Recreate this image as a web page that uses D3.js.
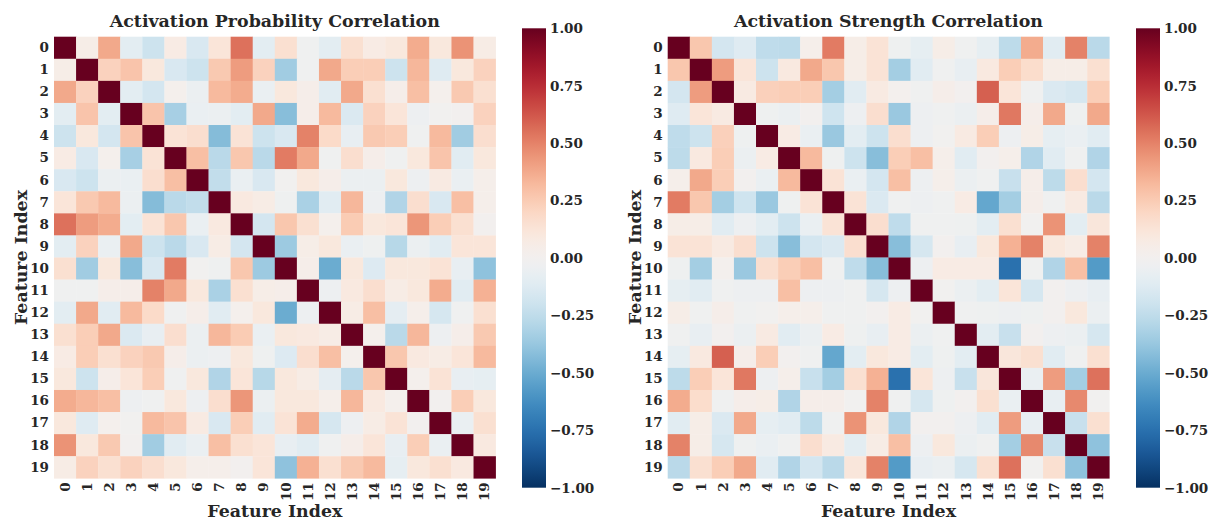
<!DOCTYPE html>
<html><head><meta charset="utf-8">
<script src="https://cdn.jsdelivr.net/npm/d3@7"></script>
<style>body{margin:0;background:#fff}svg{display:block}</style>
</head><body>
<svg id="chart" width="1210" height="522"></svg>
<script>
// ---- DATA ----
const featureLabels = ["0","1","2","3","4","5","6","7","8","9","10","11","12","13","14","15","16","17","18","19"];
const colorbarTicks = [-1, -0.75, -0.5, -0.25, 0, 0.25, 0.5, 0.75, 1];
const titles = ["Activation Probability Correlation", "Activation Strength Correlation"];
const axisLabel = "Feature Index";

const probCorr = [
 [1,.05,.38,-.10,-.20,.07,-.15,.12,.55,-.10,.15,-.02,-.10,.15,.07,.10,.37,.10,.45,.06],
 [.05,1,.22,.28,.10,-.15,-.20,.26,.42,.22,-.35,-.02,.38,.24,.24,-.20,.33,-.12,.10,.22],
 [.38,.22,1,-.10,-.17,.02,-.05,.32,.37,-.06,.10,.04,-.11,.38,.15,.04,.30,.02,.26,.15],
 [-.10,.28,-.10,1,.28,-.33,-.06,-.05,-.10,.38,-.42,.04,.32,-.14,.22,.12,-.04,-.01,.00,.22],
 [-.20,.10,-.17,.28,1,.13,.16,-.43,.13,-.20,-.15,.50,.18,-.07,.26,.24,-.02,.32,-.35,.16],
 [.07,-.15,.02,-.33,.13,1,.30,-.27,.27,-.27,.52,.38,-.02,.16,.04,-.02,.10,.28,-.11,.10],
 [-.15,-.20,-.05,-.06,.16,.30,1,-.24,-.06,-.15,-.01,.10,.04,-.05,-.05,.10,-.04,.08,-.06,.03],
 [.12,.26,.32,-.05,-.43,-.27,-.24,1,.09,.06,-.03,-.32,-.11,.33,-.04,-.30,.16,-.15,.30,.03],
 [.55,.42,.37,-.10,.13,.27,-.06,.09,1,-.17,.27,.15,.02,.25,.10,.12,.44,.24,.15,.00],
 [-.10,.22,-.06,.38,-.20,-.27,-.15,.06,-.17,1,-.36,.05,.10,-.06,-.03,-.28,-.05,-.11,.12,.12],
 [.15,-.35,.10,-.42,-.15,.52,-.01,-.03,.27,-.36,1,.04,-.50,.10,-.13,.10,.10,.13,-.07,-.40],
 [-.02,-.02,.04,.04,.50,.38,.10,-.32,.15,.05,.04,1,-.04,.09,.16,.06,.10,.37,-.11,.35],
 [-.10,.38,-.11,.32,.18,-.02,.04,-.11,.02,.10,-.50,-.04,1,.06,.30,-.09,.03,-.16,-.02,.15],
 [.15,.24,.38,-.14,-.07,.16,-.05,.33,.25,-.06,.10,.09,.06,1,.02,-.27,.33,-.04,.04,.26],
 [.07,.24,.15,.22,.26,.04,-.05,-.04,.10,-.03,-.13,.16,.30,.02,1,.27,.09,.06,.12,.32],
 [.10,-.20,.04,.12,.24,-.02,.10,-.30,.12,-.28,.10,.06,-.09,-.27,.27,1,.02,.13,-.07,-.08],
 [.37,.33,.30,-.04,-.02,.10,-.04,.16,.44,-.05,.10,.10,.03,.33,.09,.02,1,.00,.24,.10],
 [.10,-.12,.02,-.01,.32,.28,.08,-.15,.24,-.11,.13,.37,-.16,-.04,.06,.13,.00,1,-.06,.15],
 [.45,.10,.26,.00,-.35,-.11,-.06,.30,.15,.12,-.07,-.11,-.02,.04,.12,-.07,.24,-.06,1,.09],
 [.06,.22,.15,.22,.16,.10,.03,.03,.00,.12,-.40,.35,.15,.26,.32,-.08,.10,.15,.09,1]
];

const strengthCorr = [
 [1,.27,-.17,-.12,-.25,-.26,.03,.52,.05,.13,-.03,-.08,.05,-.02,-.08,-.26,.37,-.11,.50,-.27],
 [.27,1,.42,.12,-.20,.09,.38,.27,.05,.13,-.34,-.11,-.02,-.07,.09,.24,.17,.05,.05,.15],
 [-.17,.42,1,.08,.23,.24,.24,-.34,-.11,.08,.01,-.02,.04,.00,.60,.12,-.02,-.14,-.16,.24],
 [-.12,.12,.08,1,-.03,-.05,.00,-.19,-.04,.16,-.37,-.04,-.02,-.05,.04,.53,.04,.38,-.03,.38],
 [-.25,-.20,.23,-.03,1,.07,-.06,-.37,-.10,-.20,.16,-.04,-.01,.08,.24,-.04,.05,-.08,-.06,-.11],
 [-.26,.09,.24,-.05,.07,1,.32,-.03,-.20,-.42,.24,.30,.03,-.11,.00,.03,-.30,-.11,-.02,-.30],
 [.03,.38,.24,.00,-.06,.32,1,.13,-.06,-.17,.30,-.04,.03,-.05,-.02,-.22,.04,-.26,.16,-.17],
 [.52,.27,-.34,-.19,-.37,-.03,.13,1,.13,-.14,-.02,-.04,-.02,.07,-.52,-.34,.04,-.02,.08,-.27],
 [.05,.05,-.11,-.04,-.10,-.20,-.06,.13,1,.16,-.25,-.02,-.02,-.03,-.10,.15,-.01,.45,-.10,.11],
 [.13,.13,.08,.16,-.20,-.42,-.17,-.14,.16,1,-.42,-.16,.00,-.07,.10,.35,.50,.10,.06,.50],
 [-.03,-.34,.01,-.37,.16,.24,.30,-.02,-.25,-.42,1,-.04,.07,.07,.07,-.75,-.02,-.30,.30,-.57],
 [-.08,-.11,-.02,-.04,-.04,.30,-.04,-.04,-.02,-.16,-.04,1,-.01,-.05,-.10,.12,-.16,.00,-.04,-.07],
 [.05,-.02,.04,-.02,-.01,.03,.03,-.02,-.02,.00,.07,-.01,1,-.02,-.03,-.04,-.03,.00,.10,-.05],
 [-.02,-.07,.00,-.05,.08,-.11,-.05,.07,-.03,-.07,.07,-.05,-.02,1,-.10,-.22,.00,-.04,-.05,-.16],
 [-.08,.09,.60,.04,.24,.00,-.02,-.52,-.10,.10,.07,-.10,-.03,-.10,1,.11,.15,-.11,-.02,.15],
 [-.26,.24,.12,.53,-.04,.03,-.22,-.34,.15,.35,-.75,.12,-.04,-.22,.11,1,-.06,.42,-.34,.55],
 [.37,.17,-.02,.04,.05,-.30,.04,.04,-.01,.50,-.02,-.16,-.03,.00,.15,-.06,1,-.07,.48,-.01],
 [-.11,.05,-.14,.38,-.08,-.11,-.26,-.02,.45,.10,-.30,.00,.00,-.04,-.11,.42,-.07,1,-.22,.15],
 [.50,.05,-.16,-.03,-.06,-.02,.16,.08,-.10,.06,.30,-.04,.10,-.05,-.02,-.34,.48,-.22,1,-.40],
 [-.27,.15,.24,.38,-.11,-.30,-.17,-.27,.11,.50,-.57,-.07,-.05,-.16,.15,.55,-.01,.15,-.40,1]
];

// ---- DRAW ----
const svg = d3.select("#chart");
const FONT = "'DejaVu Serif', serif";
const TXT = "#262626";
const color = v => d3.interpolateRdBu((1 - v) / 2);
const fmt = v => d3.format(".2f")(v).replace("-", "\u2212");

const panels = [
  {matrix: probCorr, title: titles[0], x0: 54, cbx: 522},
  {matrix: strengthCorr, title: titles[1], x0: 667.7, cbx: 1136}
];
const y0 = 36.7, size = 441.6;
const cbTop = 28.3, cbBot = 487.7, cbW = 24;

const defs = svg.append("defs");
const grad = defs.append("linearGradient").attr("id", "cbgrad")
  .attr("x1", 0).attr("y1", 1).attr("x2", 0).attr("y2", 0);
d3.range(0, 1.0001, 0.02).forEach(t => {
  grad.append("stop").attr("offset", t).attr("stop-color", color(t * 2 - 1));
});

panels.forEach(p => {
  const g = svg.append("g");
  const x = d3.scaleBand().domain(featureLabels).range([p.x0, p.x0 + size]);
  const y = d3.scaleBand().domain(featureLabels).range([y0, y0 + size]);

  const cells = [];
  p.matrix.forEach((row, i) => row.forEach((v, j) => cells.push({r: featureLabels[i], c: featureLabels[j], v})));
  g.selectAll("rect.cell").data(cells).join("rect")
    .attr("class", "cell")
    .attr("x", d => x(d.c)).attr("y", d => y(d.r))
    .attr("width", x.bandwidth() + 0.3).attr("height", y.bandwidth() + 0.3)
    .attr("fill", d => color(d.v));

  // x axis
  const xa = g.append("g").attr("transform", `translate(0,${y0 + size})`)
    .call(d3.axisBottom(x).tickSize(0));
  xa.select(".domain").remove();
  xa.selectAll("text")
    .attr("transform", "rotate(-90)")
    .attr("text-anchor", "end")
    .attr("x", -4).attr("y", 0).attr("dy", "0.35em")
    .style("font-family", FONT).style("font-weight", "bold").style("font-size", "13.5px").attr("fill", TXT);

  // y axis
  const ya = g.append("g").attr("transform", `translate(${p.x0},0)`)
    .call(d3.axisLeft(y).tickSize(0).tickPadding(5));
  ya.select(".domain").remove();
  ya.selectAll("text")
    .style("font-family", FONT).style("font-weight", "bold").style("font-size", "13.5px").attr("fill", TXT);

  // title
  g.append("text").attr("x", p.x0 + size / 2).attr("y", 27)
    .attr("text-anchor", "middle")
    .style("font-family", FONT).style("font-weight", "bold").style("font-size", "17.4px").attr("fill", TXT)
    .text(p.title);

  // axis labels
  g.append("text").attr("x", p.x0 + size / 2).attr("y", 517)
    .attr("text-anchor", "middle")
    .style("font-family", FONT).style("font-weight", "bold").style("font-size", "17.4px").attr("fill", TXT)
    .text(axisLabel);
  g.append("text").attr("transform", `translate(${p.x0 - 27},${y0 + size / 2}) rotate(-90)`)
    .attr("text-anchor", "middle")
    .style("font-family", FONT).style("font-weight", "bold").style("font-size", "17.4px").attr("fill", TXT)
    .text(axisLabel);

  // colorbar
  g.append("rect").attr("x", p.cbx).attr("y", cbTop).attr("width", cbW).attr("height", cbBot - cbTop)
    .attr("fill", "url(#cbgrad)");
  const cs = d3.scaleLinear().domain([-1, 1]).range([cbBot, cbTop]);
  const ca = g.append("g").attr("transform", `translate(${p.cbx + cbW},0)`)
    .call(d3.axisRight(cs).tickValues(colorbarTicks).tickFormat(fmt).tickSize(0).tickPadding(4));
  ca.select(".domain").remove();
  ca.selectAll("text")
    .style("font-family", FONT).style("font-weight", "bold").style("font-size", "13.5px").attr("fill", TXT);
});
</script>
</body></html>
